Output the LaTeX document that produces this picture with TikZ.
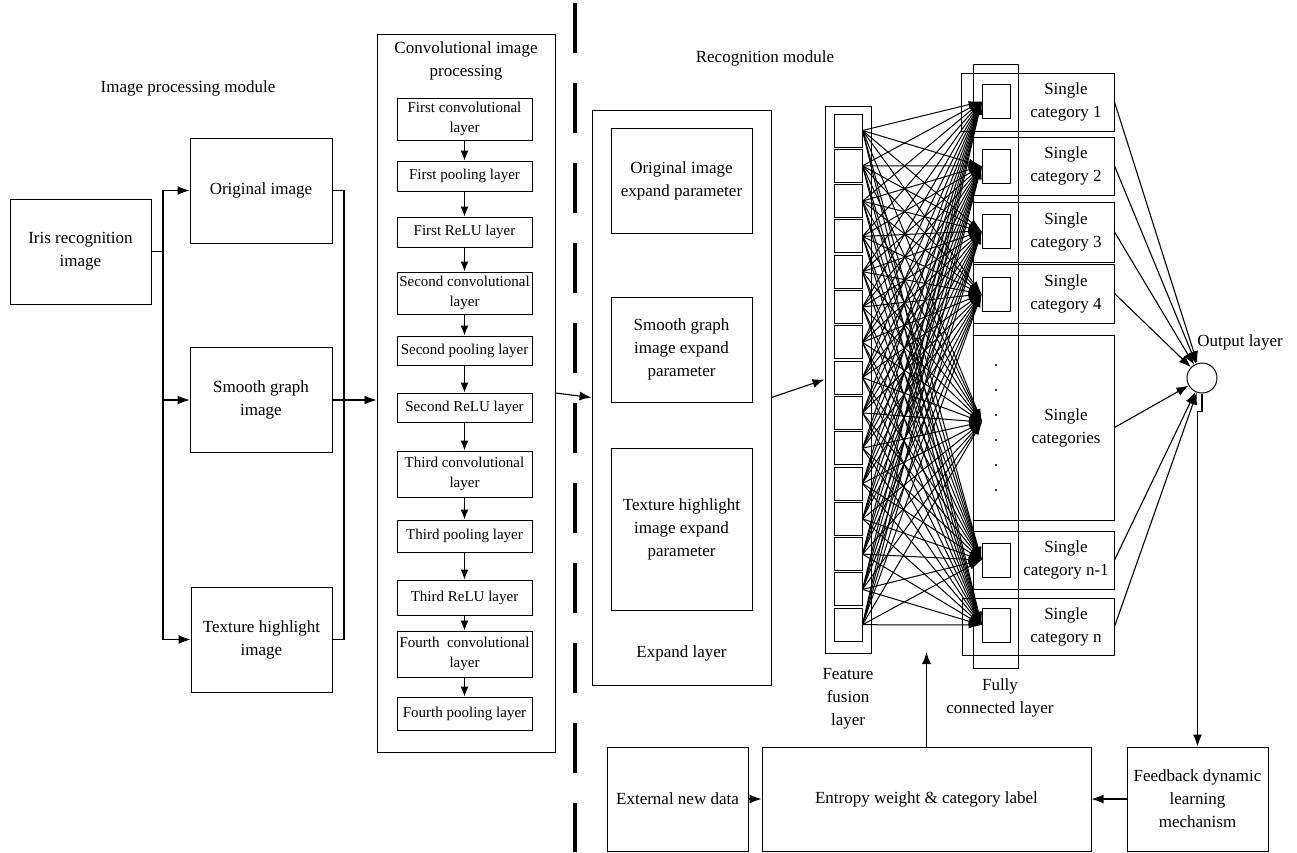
\documentclass[tikz,border=0pt]{standalone}
\usepackage{fontspec}
\setmainfont{Liberation Serif}
\usetikzlibrary{arrows.meta,positioning}

\tikzset{
    box/.style={draw, line width=1pt, align=center, inner sep=1pt, font=\fontsize{17}{23}\selectfont},
    layerbox/.style={box, font=\fontsize{15}{20}\selectfont},
    lbl/.style={align=center, font=\fontsize{17}{23}\selectfont},
    wh/.style 2 args={minimum width=#1pt, minimum height=#2pt},
    arr/.style={-{Latex[length=12pt,width=9pt]}, line width=1.1pt},
    link/.style={-{Latex[length=13pt,width=7pt]}, line width=1pt},
}

\begin{document}
\begin{tikzpicture}[x=1pt,y=-1pt]
    \useasboundingbox (0,0) rectangle (1297,852);

    % image processing module
    \node[lbl] at (188,88) (lblimg) {Image processing module};
    \node[box, wh={141}{105}] at (80.5,251.5) (iris) {Iris recognition\\image};
    \node[box, wh={142}{105}] at (261,190.5) (orig) {Original image};
    \node[box, wh={142}{105}] at (261,400) (smooth) {Smooth graph\\image};
    \node[box, wh={141}{105}] at (261.5,639.5) (tex) {Texture highlight\\image};

    \coordinate (split) at (163,251.5);
    \draw[line width=1.1pt] (iris.east) -- (split);
    \foreach \b in {orig,smooth,tex}
        \draw[arr] (split) |- (\b.west);

    \coordinate (merge) at (344,400);
    \draw[line width=1.1pt] (orig.east) -| (merge);
    \draw[line width=1.1pt] (tex.east) -| (merge);
    \draw[line width=1.1pt] (smooth.east) -- (merge);

    % convolutional image processing
    \node[box, wh={178}{718}] at (466,393) (conv) {};
    \node[lbl] at (466,61) (convlbl) {Convolutional image\\processing};
    \draw[arr] (merge) -- (merge -| conv.west);

    \foreach \i/\cy/\h/\t in {1/119/42/{First convolutional\\layer},
                             2/176/30/{First pooling layer},
                             3/232/30/{First ReLU layer},
                             4/293/42/{Second convolutional\\layer},
                             5/350.5/29/{Second pooling layer},
                             6/407.5/29/{Second ReLU layer},
                             7/474/46/{Third convolutional\\layer},
                             8/536/32/{Third pooling layer},
                             9/597.5/35/{Third ReLU layer},
                             10/654/46/{Fourth\ \ convolutional\\layer},
                             11/713.5/33/{Fourth pooling layer}}
    {
        \node[layerbox, wh={135}{\h}] at (464.5,\cy) (L\i) {\t};
    }
    \foreach \i in {1,...,10}
    {
        \pgfmathtruncatemacro\j{\i+1}
        \draw[-{Latex[length=10pt,width=8pt]}, line width=1.1pt] (L\i) -- (L\j);
    }

    % module border
    \draw[line width=3.5pt, dash pattern=on 50pt off 30pt] (575,3) -- (575,852);
    \node[lbl] at (765,58) (lblrec) {Recognition module};

    % expand layer
    \node[box, wh={179}{575}] at (681.5,397.5) (expand) {};
    \node[box, wh={141}{105}] at (681.5,180.5) (exp1) {Original image\\expand parameter};
    \node[box, wh={141}{105}] at (681.5,349.5) (exp2) {Smooth graph\\image expand\\parameter};
    \node[box, wh={141}{162}] at (681.5,529) (exp3) {Texture highlight\\image expand\\parameter};
    \node[lbl] at (681.5,653) (explbl) {Expand layer};
    \draw[arr] (conv.east) -- (expand.west);

    % feature fusion layer
    \node[box, wh={46}{547}] at (848,379.5) (fusion) {};
    \foreach \i in {1,...,15}
    {
        \node[draw, line width=1pt, inner sep=0, wh={28}{33}] at (848,{130.5+35.3*(\i-1)}) (F\i) {};
    }
    \node[lbl] at (848,699) (fuslbl) {Feature\\fusion\\layer};
    \draw[arr] (expand.east) -- (fusion.west);

    % fully connected layer and categories
    \node[box, wh={45}{604}] at (995.5,366) (fc) {};
    \node[lbl] at (1000,698) (fclbl) {Fully\\connected layer};

    \foreach \n/\cx/\cy/\w/\h/\t in {1/1037.5/102/153/58/{category 1},
                                    2/1043.5/166/141/58/{category 2},
                                    3/1043.5/232/141/60/{category 3},
                                    4/1043.5/293.5/141/59/{category 4},
                                    5/1043.5/427.5/141/185/{categories},
                                    6/1043.5/560/141/58/{category n-1},
                                    7/1038/626.5/152/57/{category n}}
    {
        \node[box, wh={\w}{\h}] at (\cx,\cy) (cat\n) {};
        \node[lbl] at (1066,\cy) (ct\n) {Single\\\t};
    }
    \foreach \n/\cy in {1/101.5,2/166,3/231,4/294,6/560,7/625}
    {
        \node[draw, line width=1pt, inner sep=0, wh={28}{34}] at (996,\cy) (Q\n) {};
        \coordinate (T\n) at (Q\n.west);
    }
    \coordinate (T5) at (982,422);
    \foreach \k in {0,...,5}
        \fill (996,{365+25*\k}) circle (1.1pt);

    \foreach \i in {1,...,15}
        \foreach \j in {1,...,7}
            \draw[link] (F\i.east) -- (T\j);

    % output layer
    \node[draw, circle, line width=1pt, inner sep=0, minimum size=30pt] at (1202,378) (out) {};
    \node[lbl] at (1240,342) (outlbl) {Output layer};
    \foreach \n in {1,...,7}
        \draw[arr] (cat\n.east) -- (out);

    % feedback loop
    \node[box, wh={141}{104}] at (677.5,799) (ext) {External new data};
    \node[box, wh={329}{104}] at (926.5,799) (ent) {Entropy weight \& category label};
    \node[box, wh={141}{104}] at (1197.5,799) (fb) {Feedback dynamic\\learning\\mechanism};
    \coordinate (up) at (926.5,652);
    \draw[arr] (ext) -- (ent);
    \draw[arr] (fb) -- (ent);
    \draw[arr] (ent.north) -- (up);
    \draw[arr] (out.south) -- ++(0,18) -| (fb.north);

\end{tikzpicture}
\end{document}
